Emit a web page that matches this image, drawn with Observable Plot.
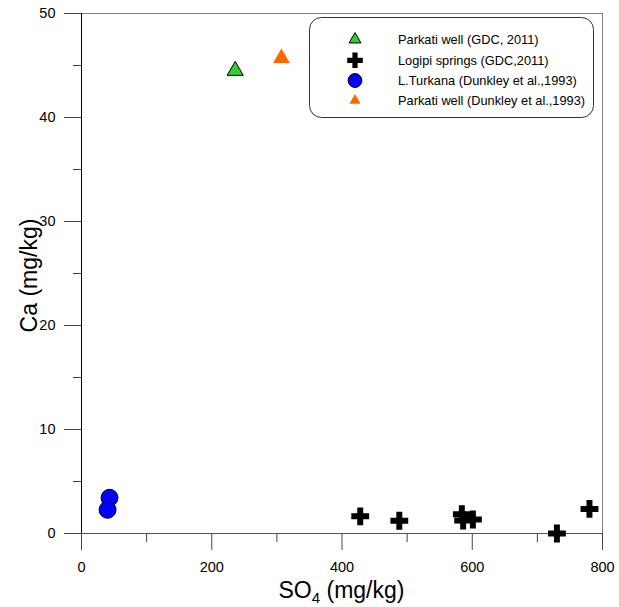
<!DOCTYPE html>
<html>
<head>
<meta charset="utf-8">
<script src="https://cdn.jsdelivr.net/npm/d3@7"></script>
<script src="https://cdn.jsdelivr.net/npm/@observablehq/plot@0.6"></script>
<style>
  html, body { margin: 0; padding: 0; background: #fff; }
  #chart { width: 619px; height: 607px; }
</style>
</head>
<body>
<div id="chart"></div>
<script>
// ---- Data ----
const parkatiGDC_SO4 = [236];
const parkatiGDC_Ca = [44.5];

const logipi_SO4 = [428, 488, 584, 586, 601, 730, 780];
const logipi_Ca = [1.65, 1.23, 1.85, 1.25, 1.35, 0, 2.36];

const turkana_SO4 = [43, 40];
const turkana_Ca = [3.43, 2.28];

const parkatiDunkley_SO4 = [307];
const parkatiDunkley_Ca = [45.7];

const xMajorTicks = [0, 200, 400, 600, 800];
const xMinorTicks = [100, 300, 500, 700];
const yMajorTicks = [0, 10, 20, 30, 40, 50];
const yMinorTicks = [5, 15, 25, 35, 45];

const legendLabels = [
  "Parkati well (GDC, 2011)",
  "Logipi springs (GDC,2011)",
  "L.Turkana (Dunkley et al.,1993)",
  "Parkati well (Dunkley et al.,1993)"
];

const toRows = (xs, ys) => xs.map((x, i) => ({x, y: ys[i]}));
const parkatiGDC = toRows(parkatiGDC_SO4, parkatiGDC_Ca);
const logipi = toRows(logipi_SO4, logipi_Ca);
const turkana = toRows(turkana_SO4, turkana_Ca);
const parkatiDunkley = toRows(parkatiDunkley_SO4, parkatiDunkley_Ca);

const FONT = "'Liberation Sans', Arial, Helvetica, sans-serif";

const chart = Plot.plot({
  width: 619,
  height: 607,
  marginLeft: 81,
  marginRight: 17,
  marginTop: 13,
  marginBottom: 74,
  style: {fontFamily: FONT, fontSize: "14.5px", color: "#000", background: "#fff", overflow: "visible"},
  x: {domain: [0, 800], label: null},
  y: {domain: [0, 50], label: null},
  marks: [
    Plot.frame({stroke: "#808080"}),
    Plot.axisX(xMajorTicks, {tickSize: 17, tickPadding: 11, stroke: "#444", label: null, tickFormat: d => String(d), fill: "#000"}),
    Plot.axisX(xMinorTicks, {tickSize: 9, stroke: "#444", label: null, tickFormat: () => ""}),
    Plot.axisY(yMajorTicks, {tickSize: 17, tickPadding: 9, stroke: "#444", label: null, tickFormat: d => String(d), fill: "#000"}),
    Plot.axisY(yMinorTicks, {tickSize: 8, stroke: "#444", label: null, tickFormat: () => ""}),
    Plot.ruleY([0], {stroke: "#555"}),
    Plot.ruleX([0], {stroke: "#000"}),
    Plot.dot(parkatiGDC, {x: "x", y: "y", symbol: "triangle", r: 6, fill: "#33cc33", stroke: "#000", strokeWidth: 1}),
    Plot.dot(parkatiDunkley, {x: "x", y: "y", symbol: "triangle", r: 6.2, fill: "#ff6600", stroke: null}),
    Plot.dot(turkana, {x: "x", y: "y", symbol: "circle", r: 8.5, fill: "#0000ff", stroke: "#000", strokeWidth: 1}),
    Plot.dot(logipi, {x: "x", y: "y", symbol: "cross", r: 7.5, fill: "#000", stroke: null})
  ]
});

document.getElementById("chart").appendChild(chart);

const svg = d3.select(chart);

// Axis titles
svg.append("text")
  .attr("x", 341.5).attr("y", 598)
  .attr("text-anchor", "middle")
  .attr("font-family", FONT)
  .attr("font-size", 23)
  .attr("fill", "#000")
  .call(t => {
    t.append("tspan").text("SO");
    t.append("tspan").attr("font-size", 15).attr("dy", 5).text("4");
    t.append("tspan").attr("dy", -5).text(" (mg/kg)");
  });

svg.append("text")
  .attr("transform", "translate(37,275.5) rotate(-90)")
  .attr("text-anchor", "middle")
  .attr("font-family", FONT)
  .attr("font-size", 23)
  .attr("fill", "#000")
  .text("Ca (mg/kg)");

// Legend
const legend = svg.append("g").attr("text-anchor", "start");
legend.append("rect")
  .attr("x", 309.5).attr("y", 17.5)
  .attr("width", 284).attr("height", 100)
  .attr("rx", 12).attr("ry", 12)
  .attr("fill", "#fff").attr("stroke", "#333").attr("stroke-width", 1);

const legendSymbols = [
  {type: d3.symbolTriangle, size: 62, fill: "#33cc33", stroke: "#000"},
  {type: d3.symbolCross, size: 135, fill: "#000", stroke: "none"},
  {type: d3.symbolCircle, size: 150, fill: "#0000ff", stroke: "#000"},
  {type: d3.symbolTriangle, size: 54, fill: "#ff6600", stroke: "none"}
];
const legendRowY = [39.5, 60.3, 80.5, 100.5];

legendLabels.forEach((label, i) => {
  const s = legendSymbols[i];
  legend.append("path")
    .attr("d", d3.symbol(s.type, s.size)())
    .attr("transform", `translate(355,${legendRowY[i]})`)
    .attr("fill", s.fill)
    .attr("stroke", s.stroke)
    .attr("stroke-width", 1);
  legend.append("text")
    .attr("x", 398).attr("y", legendRowY[i] + 0.5)
    .attr("dy", "0.35em")
    .attr("text-anchor", "start")
    .attr("font-family", FONT)
    .attr("font-size", 12.8)
    .attr("fill", "#000")
    .text(label);
});
</script>
</body>
</html>
